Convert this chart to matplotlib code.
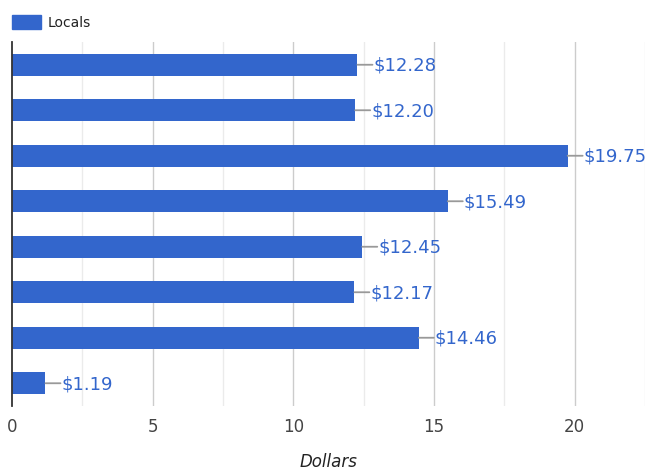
import matplotlib
matplotlib.use("Agg")
import matplotlib.pyplot as plt
from matplotlib.patches import Patch

# spending per category, top to bottom
values = [12.28, 12.20, 19.75, 15.49, 12.45, 12.17, 14.46, 1.19]
series_name = "Locals"
x_ticks = [0, 5, 10, 15, 20]
bar_color = "#3366cc"

fig = plt.figure(figsize=(6.53, 4.77), dpi=100)
ax = fig.add_axes([12/653, 1-407/477, (645-12)/653, (407-43)/477])

ypos = list(range(len(values)))
ax.barh(ypos, values, height=0.48, color=bar_color, zorder=3)
ax.set_ylim(len(values)-0.5, -0.5)
ax.set_xlim(0, 22.5)

# major / minor grid
for x in [2.5, 7.5, 12.5, 17.5, 22.5]:
    ax.axvline(x, color="#ebebeb", lw=1, zorder=1)
for x in x_ticks[1:]:
    ax.axvline(x, color="#cccccc", lw=1, zorder=1)

# value labels with leader lines
px = 72/100
for y, v in zip(ypos, values):
    ax.annotate("", xy=(v, y), xytext=(15*px, 0), textcoords="offset points",
                arrowprops=dict(arrowstyle="-", color="#999999", lw=1.3,
                                shrinkA=0, shrinkB=0), zorder=4)
    ax.annotate("${:.2f}".format(v), xy=(v, y), xytext=(16*px, 0),
                textcoords="offset points", va="center", ha="left",
                color=bar_color, fontsize=13, zorder=5, annotation_clip=False)

ax.set_xticks(x_ticks)
ax.set_xticklabels([str(t) for t in x_ticks], fontsize=12, color="#444444")
ax.tick_params(axis="x", length=0, pad=8)
ax.set_yticks([])
for s in ["top", "right", "bottom"]:
    ax.spines[s].set_visible(False)
ax.spines["left"].set_color("#333333")
ax.spines["left"].set_linewidth(1.3)
ax.spines["left"].set_zorder(6)

ax.set_xlabel("Dollars", fontsize=12, style="italic", color="#222222", labelpad=12)

fig.legend(handles=[Patch(color=bar_color, label=series_name)],
           loc="upper left", bbox_to_anchor=(-1/653, 1-3/477), frameon=False,
           fontsize=10, handlelength=2.1, handleheight=1.2, handletextpad=0.5,
           labelcolor="#222222")

fig.savefig("out.png", dpi=100)
